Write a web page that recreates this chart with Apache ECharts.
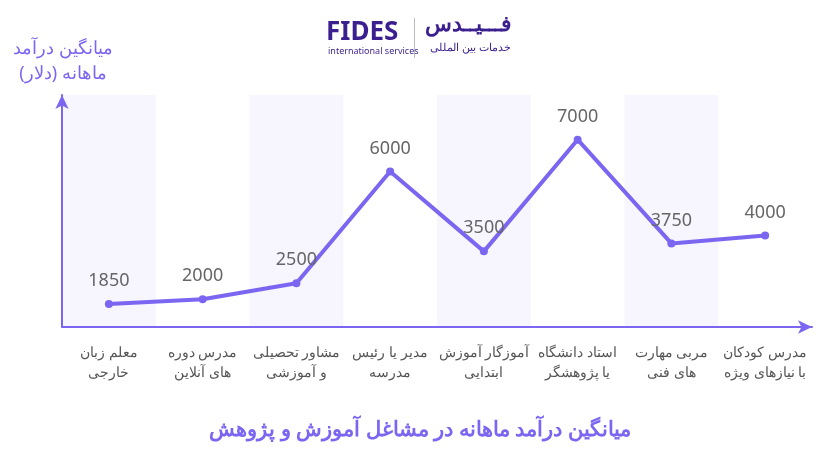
<!DOCTYPE html>
<html><head><meta charset="utf-8">
<script src="https://cdn.jsdelivr.net/npm/echarts@6/dist/echarts.min.js"></script>
<style>html,body{margin:0;background:#fff}#c{width:840px;height:473px}</style>
</head><body><div id="c"></div>
<script>
// داده‌ها
const categories = ['معلم زبان\nخارجی', 'مدرس دوره\nهای آنلاین', 'مشاور تحصیلی\nو آموزشی', 'مدیر یا رئیس\nمدرسه', 'آموزگار آموزش\nابتدایی', 'استاد دانشگاه\nیا پژوهشگر', 'مربی مهارت\nهای فنی', 'مدرس کودکان\nبا نیازهای ویژه'];
const incomes = [1850, 2000, 2500, 6000, 3500, 7000, 3750, 4000];
const yMin = 1130, yMax = 8400;
const bands = [yMax, '-', yMax, '-', yMax, '-', yMax, '-'];

const font = 'Noto Sans, sans-serif';
const purple = '#7b66f2';
const chart = echarts.init(document.getElementById('c'));
chart.setOption({
  animation: false,
  grid: { left: 62, right: 28, top: 95, bottom: 146 },
  xAxis: {
    type: 'category', data: categories, z: 5,
    axisLine: { lineStyle: { color: purple, width: 2 }, symbol: ['none', 'arrow'], symbolSize: [10, 14] },
    axisTick: { show: false },
    axisLabel: { interval: 0, color: '#555', fontSize: 14, fontFamily: font, lineHeight: 20, margin: 16 }
  },
  yAxis: {
    type: 'value', min: yMin, max: yMax, z: 5,
    axisLine: { show: true, lineStyle: { color: purple, width: 2 }, symbol: ['none', 'arrow'], symbolSize: [10, 14] },
    axisTick: { show: false }, axisLabel: { show: false }, splitLine: { show: false }
  },
  graphic: [
    { type: 'text', x: 63, y: 36, style: { text: 'میانگین درآمد\nماهانه (دلار)', fill: purple, font: '18px ' + font, align: 'center', lineHeight: 25 } },
    { type: 'text', left: 326, top: 20, style: { text: 'FIDES', fill: '#3b1f8f', font: 'bold 26px ' + font } },
    { type: 'text', left: 328, top: 47, style: { text: 'international services', fill: '#3b1f8f', font: '9px ' + font } },
    { type: 'rect', left: 414, top: 18, shape: { width: 1, height: 40 }, style: { fill: '#bbb' } },
    { type: 'text', left: 425, top: 14, style: { text: 'فـــیــدس', fill: '#3b1f8f', font: 'bold 22px ' + font } },
    { type: 'text', left: 430, top: 42, style: { text: 'خدمات بین المللی', fill: '#3b1f8f', font: '11px ' + font } },
    { type: 'text', left: 'center', top: 420, style: { text: 'میانگین درآمد ماهانه در مشاغل آموزش و پژوهش', fill: purple, font: 'bold 21px ' + font } }
  ],
  series: [
    { type: 'bar', data: bands, barWidth: '100%', silent: true, itemStyle: { color: '#f7f5fe' }, z: -1 },
    {
      type: 'line', data: incomes, symbol: 'circle', symbolSize: 8,
      lineStyle: { color: purple, width: 4 }, itemStyle: { color: purple },
      label: { show: true, position: 'top', distance: 10, color: '#666', fontSize: 18, fontFamily: font }
    }
  ]
});
</script></body></html>
